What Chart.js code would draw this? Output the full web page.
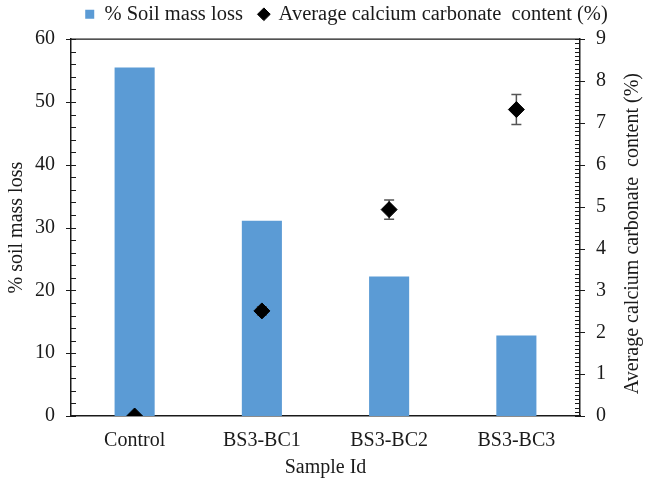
<!DOCTYPE html>
<html>
<head>
<meta charset="utf-8">
<script src="https://cdn.jsdelivr.net/npm/chart.js@4/dist/chart.umd.min.js"></script>
<style>
  html, body { margin: 0; padding: 0; background: #fff; }
  #wrap { width: 645px; height: 484px; }
</style>
</head>
<body>
<div id="wrap"><canvas id="chart"></canvas></div>
<script>
const samples = ['Control', 'BS3-BC1', 'BS3-BC2', 'BS3-BC3'];
const massLoss = [55.5, 31.1, 22.2, 12.8];          // % soil mass loss
const caco3 = [0, 2.51, 4.93, 7.32];                // average calcium carbonate content (%)
const caco3Err = [0, 0.1, 0.23, 0.36];              // error bar half-length
const rightTitle = 'Average calcium carbonate  content (%)';

const FONT = "'Liberation Serif', 'Times New Roman', serif";
const INK = '#1a1a1a';

// error bars drawn just before the diamonds
const errorBars = {
  id: 'errorBars',
  beforeDatasetDraw(chart, args) {
    if (args.index !== 1) return;
    const ctx = chart.ctx;
    const y1 = chart.scales.y1;
    const meta = chart.getDatasetMeta(1);
    ctx.save();
    ctx.strokeStyle = '#555';
    ctx.lineWidth = 1.5;
    meta.data.forEach((pt, i) => {
      const e = caco3Err[i];
      if (!e) return;
      const top = y1.getPixelForValue(caco3[i] + e);
      const bot = y1.getPixelForValue(caco3[i] - e);
      ctx.beginPath();
      ctx.moveTo(pt.x, top); ctx.lineTo(pt.x, bot);
      ctx.moveTo(pt.x - 5, top); ctx.lineTo(pt.x + 5, top);
      ctx.moveTo(pt.x - 5, bot); ctx.lineTo(pt.x + 5, bot);
      ctx.stroke();
    });
    ctx.restore();
  }
};

// major ticks cross the axis, minor ticks point inward; right title reads upward
const axisTicks = {
  id: 'axisTicks',
  afterLayout(chart) {
    chart.legend.left += 24;
    chart.legend.right += 24;
  },
  afterDraw(chart) {
    const ctx = chart.ctx;
    const area = chart.chartArea;
    ctx.save();
    ctx.strokeStyle = INK;
    ctx.lineWidth = 1.2;
    const y = chart.scales.y, y1 = chart.scales.y1;
    ctx.beginPath();
    for (let v = 0; v <= 60.001; v += 2) {
      const p = Math.round(y.getPixelForValue(v)) + 0.5;
      const major = Math.abs(v % 10) < 0.001;
      ctx.moveTo(area.left - (major ? 5 : 0), p);
      ctx.lineTo(area.left + 5, p);
    }
    for (let k = 0; k <= 90; k++) {
      const p = Math.round(y1.getPixelForValue(k / 10)) + 0.5;
      const major = k % 10 === 0;
      ctx.moveTo(area.right - 5, p);
      ctx.lineTo(area.right + (major ? 5 : 0), p);
    }
    ctx.moveTo(area.left, area.top);
    ctx.lineTo(area.right, area.top);
    ctx.stroke();

    ctx.translate(633, (area.top + area.bottom) / 2 + 6);
    ctx.rotate(-Math.PI / 2);
    ctx.fillStyle = INK;
    ctx.font = '20px ' + FONT;
    ctx.textAlign = 'center';
    ctx.textBaseline = 'middle';
    ctx.fillText(rightTitle, 0, 0);
    ctx.restore();
  }
};

Chart.defaults.font.family = FONT;
Chart.defaults.font.size = 20;
Chart.defaults.color = INK;

new Chart(document.getElementById('chart'), {
  type: 'bar',
  data: {
    labels: samples,
    datasets: [
      {
        label: '% Soil mass loss',
        data: massLoss,
        backgroundColor: '#5b9bd5',
        pointStyle: 'rect',
        categoryPercentage: 1,
        barPercentage: 0.315,
        yAxisID: 'y',
        order: 2
      },
      {
        type: 'line',
        label: rightTitle,
        data: caco3,
        showLine: false,
        pointStyle: 'rectRot',
        pointRadius: 8,
        pointHoverRadius: 8,
        backgroundColor: '#000',
        borderColor: '#000',
        yAxisID: 'y1',
        order: 1
      }
    ]
  },
  options: {
    responsive: true,
    maintainAspectRatio: false,
    animation: false,
    layout: { padding: { top: -12.5, left: 0, right: 0, bottom: 0 } },
    plugins: {
      tooltip: { enabled: false },
      legend: {
        position: 'top',
        labels: {
          usePointStyle: true,
          boxWidth: 9,
          boxHeight: 9,
          padding: 16.5,
          font: { size: 20.5, family: FONT },
          sort: (a, b) => a.datasetIndex - b.datasetIndex
        }
      },
      // blank spacer between legend and plot area
      subtitle: {
        display: true,
        text: ' ',
        weight: 500,
        font: { size: 1 },
        padding: { top: 0, bottom: 3.5 }
      }
    },
    scales: {
      x: {
        grid: { display: false, drawTicks: false },
        border: { display: true, color: INK, width: 1.5 },
        ticks: { padding: 13 },
        title: { display: true, text: 'Sample Id', padding: { top: 2, bottom: 4 } },
        afterFit: s => { s.height = 68; }
      },
      y: {
        position: 'left',
        min: 0, max: 60,
        grid: { display: false, drawTicks: false },
        border: { display: true, color: INK, width: 1.5 },
        ticks: { stepSize: 10, padding: 16 },
        title: { display: true, text: '% soil mass loss', padding: { top: 5, bottom: 0 } },
        afterFit: s => { s.width = 71; }
      },
      y1: {
        position: 'right',
        min: 0, max: 9,
        grid: { display: false, drawTicks: false },
        border: { display: true, color: INK, width: 1.5 },
        ticks: { stepSize: 1, padding: 16 },
        afterFit: s => { s.width = 65; }
      }
    }
  },
  plugins: [errorBars, axisTicks]
});
</script>
</body>
</html>
